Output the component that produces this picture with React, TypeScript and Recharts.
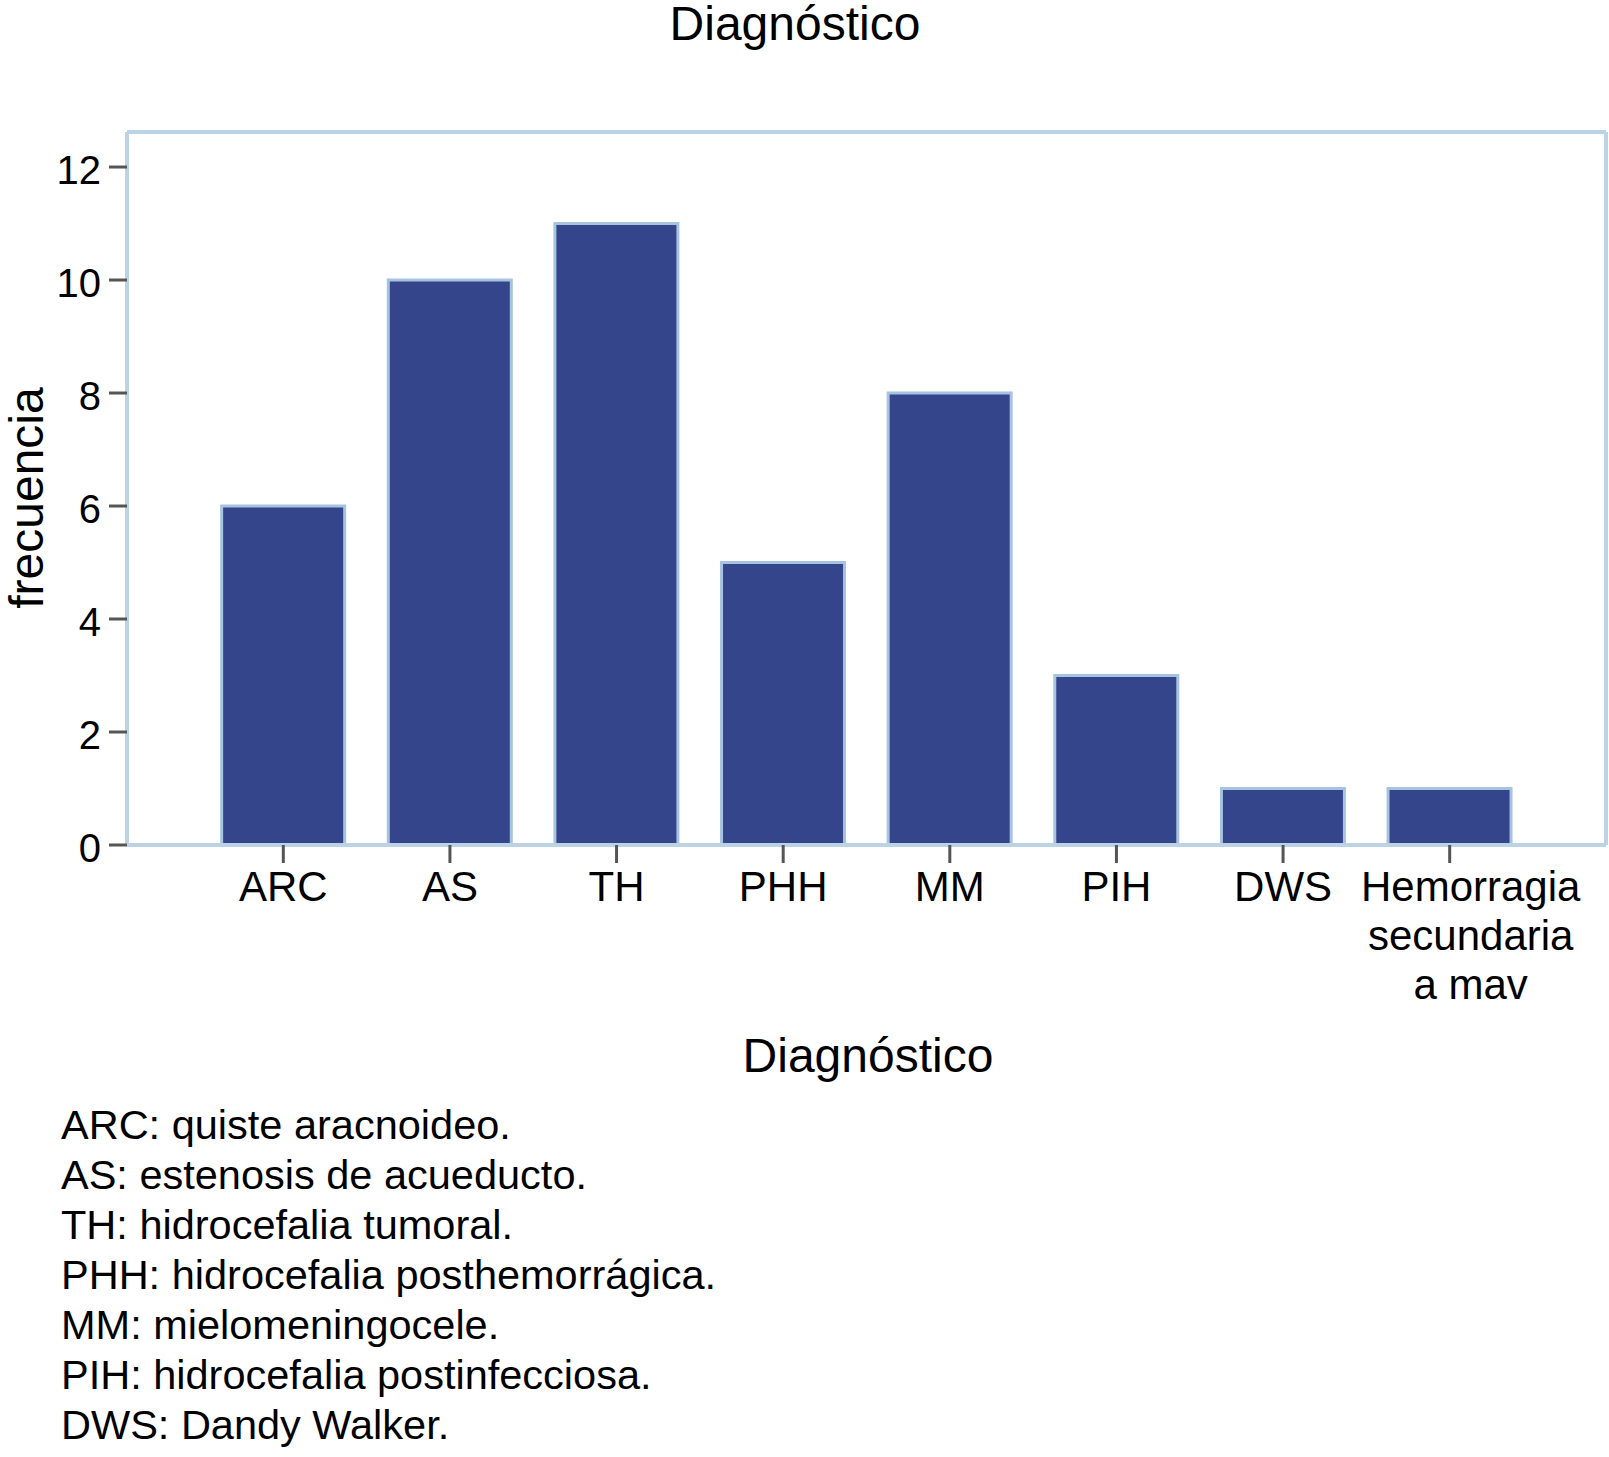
import React from "react";
import { BarChart, Bar, XAxis, YAxis, CartesianGrid } from "recharts";

const categories = [
  "ARC",
  "AS",
  "TH",
  "PHH",
  "MM",
  "PIH",
  "DWS",
  "Hemorragia\nsecundaria\na mav",
];
const frecuencia = [6, 10, 11, 5, 8, 3, 1, 1];
const yTicks = [0, 2, 4, 6, 8, 10, 12];
const notas = [
  "ARC: quiste aracnoideo.",
  "AS: estenosis de acueducto.",
  "TH: hidrocefalia tumoral.",
  "PHH: hidrocefalia posthemorrágica.",
  "MM: mielomeningocele.",
  "PIH: hidrocefalia postinfecciosa.",
  "DWS: Dandy Walker.",
];

const data = categories.map((c, i) => ({ diagnostico: c, frecuencia: frecuencia[i] }));

const FONT = "'Liberation Sans', Arial, Helvetica, sans-serif";
const BOX = "#bcd3e6";
const TICK = "#555";

function XTick(props: any) {
  const { x, y, payload } = props;
  const lines = String(payload.value).split("\n");
  // the wrapped label sits a bit right of its tick in the original
  const cx = lines.length > 1 ? x + 21 : x;
  return (
    <text x={cx} y={y} textAnchor="middle" fontSize={42} fontFamily={FONT} fill="#000">
      {lines.map((l, i) => (
        <tspan key={i} x={cx} dy={i === 0 ? 28 : 49}>
          {l}
        </tspan>
      ))}
    </text>
  );
}

function YTick(props: any) {
  const { x, y, payload } = props;
  return (
    <text x={x} y={y + 17} textAnchor="end" fontSize={40} fontFamily={FONT} fill="#000">
      {payload.value}
    </text>
  );
}

// frame lines on the edges of the plot area
const frameH = ({ offset }: any) => [offset.top, offset.top + offset.height];
const frameV = ({ offset }: any) => [offset.left, offset.left + offset.width];

export default function App() {
  return (
    <div
      style={{
        position: "absolute",
        left: 0,
        top: 0,
        width: 1609,
        height: 1457,
        background: "#fff",
        fontFamily: FONT,
      }}
    >
      <BarChart
        width={1609}
        height={1457}
        data={data}
        barCategoryGap="13%"
        margin={{ top: 132, right: 3, left: 0, bottom: 372 }}
      >
        <CartesianGrid
          stroke={BOX}
          strokeWidth={4}
          horizontalCoordinatesGenerator={frameH}
          verticalCoordinatesGenerator={frameV}
        />
        <XAxis
          dataKey="diagnostico"
          height={240}
          padding={{ left: 73, right: 73 }}
          interval={0}
          tickSize={18}
          tickMargin={10}
          tickLine={{ stroke: TICK, strokeWidth: 3 }}
          axisLine={{ stroke: BOX, strokeWidth: 4 }}
          tick={<XTick />}
        />
        <YAxis
          width={127}
          type="number"
          domain={[0, 12.62]}
          ticks={yTicks}
          tickSize={18}
          tickMargin={8}
          tickLine={{ stroke: TICK, strokeWidth: 3 }}
          axisLine={{ stroke: BOX, strokeWidth: 4 }}
          tick={<YTick />}
        />
        <Bar
          dataKey="frecuencia"
          fill="#34458b"
          stroke="#a6c3e0"
          strokeWidth={3}
          isAnimationActive={false}
        />
      </BarChart>

      <div
        style={{
          position: "absolute",
          left: 0,
          width: 1590,
          top: 0,
          textAlign: "center",
          fontSize: 48,
          lineHeight: "48px",
        }}
      >
        Diagnóstico
      </div>

      <div
        style={{
          position: "absolute",
          left: 868,
          top: 1032,
          transform: "translateX(-50%)",
          whiteSpace: "nowrap",
          fontSize: 48,
          lineHeight: "48px",
        }}
      >
        Diagnóstico
      </div>

      <div
        style={{
          position: "absolute",
          left: 27,
          top: 498,
          transform: "translate(-50%, -50%) rotate(-90deg)",
          whiteSpace: "nowrap",
          fontSize: 48,
          lineHeight: 1,
        }}
      >
        frecuencia
      </div>

      <div
        style={{
          position: "absolute",
          left: 61,
          top: 1100,
          fontSize: 41.5,
          lineHeight: "50px",
          whiteSpace: "nowrap",
        }}
      >
        {notas.map((n, i) => (
          <div key={i}>{n}</div>
        ))}
      </div>
    </div>
  );
}
